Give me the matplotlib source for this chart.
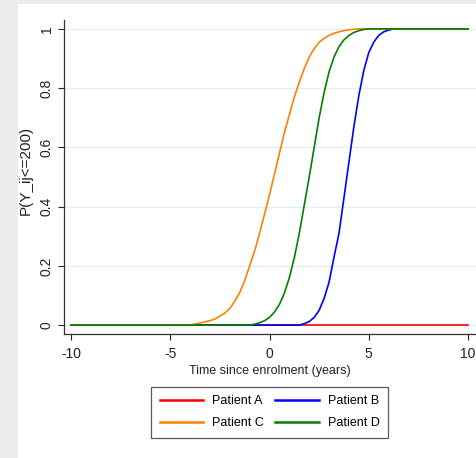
import matplotlib
matplotlib.use('Agg')
import matplotlib.pyplot as plt

plt.rcParams['font.family'] = ['Liberation Sans', 'DejaVu Sans']
plt.rcParams['axes.unicode_minus'] = False

# values (time in years, probability)
t_a = [-10, 10]
p_a = [0, 0]

t_b = [-10, 1.5, 1.75, 2.0, 2.25, 2.5, 2.75, 3.0, 3.25, 3.5, 3.75, 4.0, 4.25,
       4.5, 4.75, 5.0, 5.25, 5.5, 5.75, 6.0, 6.25, 10]
p_b = [0, 0, 0.005, 0.012, 0.026, 0.05, 0.09, 0.145, 0.23, 0.31, 0.43, 0.55, 0.67,
       0.775, 0.86, 0.92, 0.955, 0.978, 0.99, 0.996, 1.0, 1.0]

t_c = [-10, -4.0, -3.75, -3.5, -3.25, -3.0, -2.75, -2.5, -2.25, -2.0, -1.75, -1.5,
       -1.25, -1.0, -0.75, -0.5, -0.25, 0.0, 0.25, 0.5, 0.75, 1.0, 1.25, 1.5,
       1.75, 2.0, 2.25, 2.5, 2.75, 3.0, 3.25, 3.5, 3.75, 4.0, 4.25, 4.5, 10]
p_c = [0, 0, 0.004, 0.007, 0.011, 0.015, 0.021, 0.03, 0.041, 0.056, 0.08, 0.11,
       0.15, 0.20, 0.25, 0.31, 0.375, 0.44, 0.51, 0.58, 0.65, 0.71, 0.77, 0.82,
       0.866, 0.905, 0.933, 0.955, 0.968, 0.978, 0.985, 0.99, 0.994, 0.997, 0.999, 1.0, 1.0]

t_d = [-10, -1.0, -0.75, -0.5, -0.25, 0.0, 0.25, 0.5, 0.75, 1.0, 1.25, 1.5, 1.75,
       2.0, 2.25, 2.5, 2.75, 3.0, 3.25, 3.5, 3.75, 4.0, 4.25, 4.5, 4.75, 5.0, 10]
p_d = [0, 0, 0.003, 0.008, 0.015, 0.026, 0.044, 0.07, 0.108, 0.16, 0.228, 0.31, 0.405,
       0.5, 0.6, 0.7, 0.785, 0.855, 0.905, 0.94, 0.963, 0.978, 0.988, 0.994, 0.998, 1.0, 1.0]

x_ticks = [-10, -5, 0, 5, 10]
y_ticks = [0, 0.2, 0.4, 0.6, 0.8, 1]
y_tick_labels = ['0', '0.2', '0.4', '0.6', '0.8', '1']

fig = plt.figure(figsize=(4.76, 4.58), dpi=100)
fig.patch.set_facecolor('#ececec')

# white panel behind everything (grey strip left and top)
bg = fig.add_axes([18 / 476, 0, 1 - 18 / 476, 1 - 4 / 458], zorder=-10)
bg.set_facecolor('white')
bg.set_xticks([])
bg.set_yticks([])
for s in bg.spines.values():
    s.set_visible(False)

ax = fig.add_axes([64 / 476, 124 / 458, 412 / 476, 314 / 458])
ax.patch.set_alpha(0)

ax.plot(t_a, p_a, color='#ff0000', lw=1.2, label='Patient A')
ax.plot(t_b, p_b, color='#0000ff', lw=1.2, label='Patient B')
ax.plot(t_c, p_c, color='#ff8000', lw=1.2, label='Patient C')
ax.plot(t_d, p_d, color='#008000', lw=1.2, label='Patient D')

ax.set_xlim(-10.35, 10.4)
ax.set_ylim(-0.03, 1.03)
ax.set_xticks(x_ticks)
ax.set_yticks(y_ticks)
ax.set_yticklabels(y_tick_labels, rotation=90, va='center')
ax.tick_params(axis='both', length=4, width=0.8, labelsize=10,
               colors='#222222', pad=5)
ax.tick_params(axis='y', pad=3.5)
ax.grid(axis='y', color='#e3eef0', lw=0.9)
ax.set_axisbelow(True)

for side in ['top', 'right']:
    ax.spines[side].set_visible(False)
for side in ['left', 'bottom']:
    ax.spines[side].set_color('#333333')
    ax.spines[side].set_linewidth(0.9)

ax.set_xlabel('Time since enrolment (years)', fontsize=9, color='#222222', labelpad=3)
ax.set_ylabel('P(Y_ij<=200)', fontsize=11, color='#222222')
ax.yaxis.set_label_coords(-0.075, 0.52)

handles, labels = ax.get_legend_handles_labels()
order = [0, 2, 1, 3]  # rows: A B / C D
leg = fig.legend([handles[i] for i in order], [labels[i] for i in order],
                 ncol=2, loc='center',
                 bbox_to_anchor=(269.5 / 476, 1 - 412.5 / 458),
                 fontsize=9, frameon=True, fancybox=False,
                 edgecolor='#333333', handlelength=3.5, handletextpad=0.7,
                 columnspacing=0.9, borderpad=0.7, labelspacing=0.8)
leg.get_frame().set_linewidth(0.9)
for line in leg.get_lines():
    line.set_linewidth(1.8)

fig.savefig('out.png', dpi=100, facecolor=fig.get_facecolor())
